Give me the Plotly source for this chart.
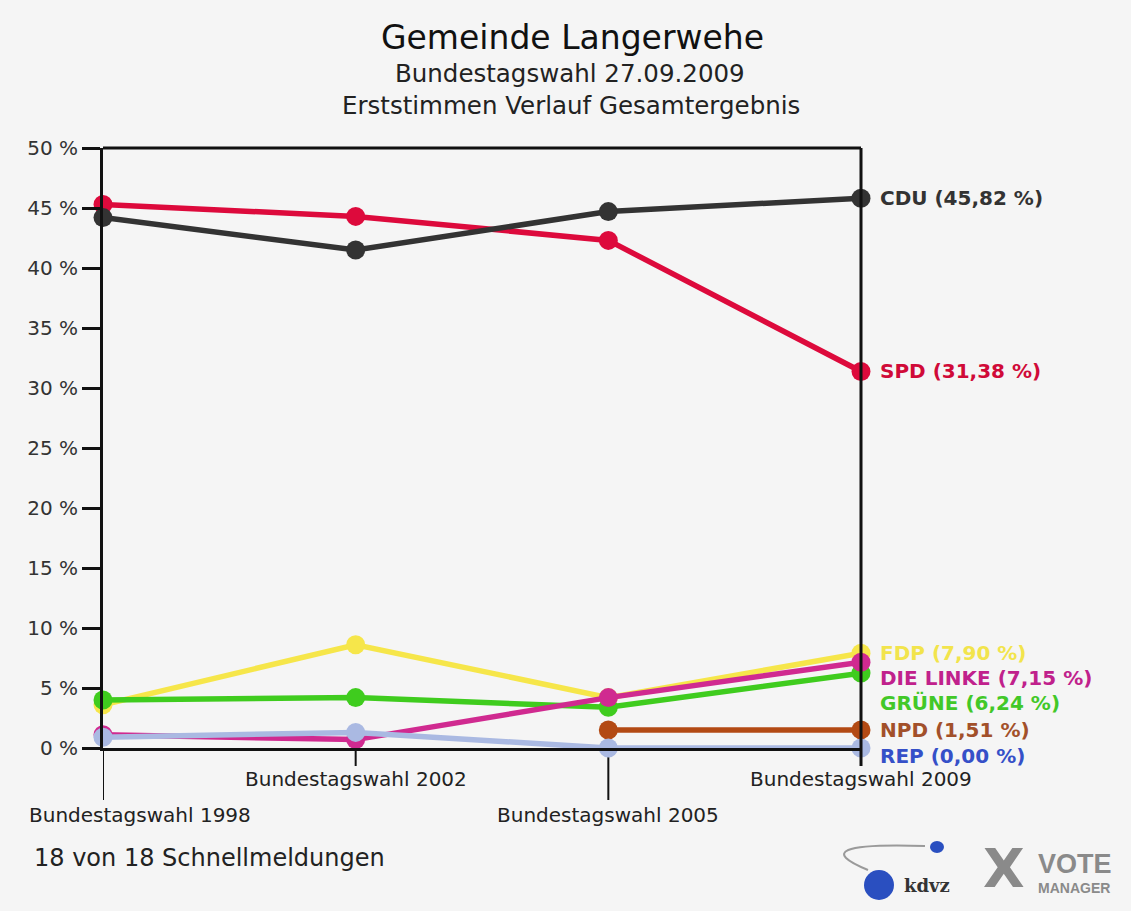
import plotly.graph_objects as go

elections = ["Bundestagswahl 1998", "Bundestagswahl 2002", "Bundestagswahl 2005", "Bundestagswahl 2009"]
y_ticks = [0, 5, 10, 15, 20, 25, 30, 35, 40, 45, 50]
y_tick_text = [f"{v} %" for v in y_ticks]

parties = ["SPD", "CDU", "FDP", "GRÜNE", "DIE LINKE", "NPD", "REP"]
spd = [45.3, 44.3, 42.3, 31.38]
cdu = [44.2, 41.5, 44.7, 45.82]
fdp = [3.6, 8.6, 4.2, 7.90]
gruene = [4.0, 4.2, 3.4, 6.24]
linke = [1.1, 0.7, 4.2, 7.15]
npd = [None, None, 1.5, 1.51]
rep = [0.9, 1.3, 0.0, 0.00]
final_labels = ["SPD (31,38 %)", "CDU (45,82 %)", "FDP (7,90 %)", "GRÜNE (6,24 %)",
                "DIE LINKE (7,15 %)", "NPD (1,51 %)", "REP (0,00 %)"]

series = [spd, cdu, fdp, gruene, linke, npd, rep]
line_colors = ["#dd0a3c", "#333333", "#f6e64a", "#3fcc1e", "#d02a90", "#b34a14", "#aab9e2"]
label_colors = ["#d00a38", "#333333", "#f2e44c", "#42c828", "#c0218c", "#a2502a", "#3550c8"]
label_shift = [0, 0, 0, -30, -16, 0, -8]  # pixel offsets to avoid overlap

# The page body has an 8px margin; the figure is sized so the picture fills the window.
W, H = 1115, 895
fig = go.Figure()
x_idx = list(range(len(elections)))
for name, vals, lc in zip(parties, series, line_colors):
    fig.add_trace(go.Scatter(
        x=x_idx, y=vals, mode="lines+markers", name=name,
        line=dict(color=lc, width=5.5),
        marker=dict(color=lc, size=19),
        cliponaxis=False, connectgaps=False, showlegend=False))


def px_x(p):
    return (p - 103) / 758


def px_y(p):
    return (748 - p) / 600


annotations = []
for name, vals, lab, col, sh in zip(parties, series, final_labels, label_colors, label_shift):
    annotations.append(dict(
        x=1, xref="paper", y=vals[-1], yref="y", xanchor="left", yanchor="middle",
        xshift=17, yshift=sh, text=lab, showarrow=False,
        font=dict(family="DejaVu Sans", size=20, color=col, weight="bold")))

# Staggered x tick labels
label_y = [px_y(815), px_y(779), px_y(815), px_y(779)]
for i, el in enumerate(elections):
    a = dict(x=i, xref="x", y=label_y[i], yref="paper", text=el, showarrow=False,
             xanchor="center", yanchor="middle",
             font=dict(family="DejaVu Sans", size=20, color="#222222"))
    if i == 0:
        a.update(x=px_x(27), xref="paper", xanchor="left")
    annotations.append(a)

annotations += [
    dict(x=px_x(572), xref="paper", y=px_y(38), yref="paper", text="Gemeinde Langerwehe",
         showarrow=False, xanchor="center", yanchor="middle",
         font=dict(family="DejaVu Sans", size=33, color="#111111")),
    dict(x=px_x(570), xref="paper", y=px_y(73), yref="paper", text="Bundestagswahl 27.09.2009",
         showarrow=False, xanchor="center", yanchor="middle",
         font=dict(family="DejaVu Sans", size=24.5, color="#222222")),
    dict(x=px_x(571), xref="paper", y=px_y(106), yref="paper", text="Erststimmen Verlauf Gesamtergebnis",
         showarrow=False, xanchor="center", yanchor="middle",
         font=dict(family="DejaVu Sans", size=24.5, color="#222222")),
    dict(x=px_x(32), xref="paper", y=px_y(858), yref="paper", text="18 von 18 Schnellmeldungen",
         showarrow=False, xanchor="left", yanchor="middle",
         font=dict(family="DejaVu Sans", size=24, color="#222222")),
    # logo texts
    dict(x=px_x(902), xref="paper", y=px_y(885), yref="paper", text="<b>kdvz</b>",
         showarrow=False, xanchor="left", yanchor="middle",
         font=dict(family="DejaVu Serif", size=18, color="#333333")),
    dict(x=px_x(1004), xref="paper", y=px_y(868), yref="paper", text="<b>X</b>",
         showarrow=False, xanchor="center", yanchor="middle",
         font=dict(family="DejaVu Sans", size=54, color="#8a8a8a")),
    dict(x=px_x(1036), xref="paper", y=px_y(864), yref="paper", text="<b>VOTE</b>",
         showarrow=False, xanchor="left", yanchor="middle",
         font=dict(family="Liberation Sans", size=27, color="#8a8a8a")),
    dict(x=px_x(1036), xref="paper", y=px_y(888), yref="paper", text="<b>MANAGER</b>",
         showarrow=False, xanchor="left", yanchor="middle",
         font=dict(family="Liberation Sans", size=14, color="#8a8a8a")),
]

shapes = [
    dict(type="line", xref="paper", yref="paper", x0=1, x1=1, y0=px_y(148), y1=px_y(766),
         line=dict(color="#111111", width=3)),
    dict(type="line", xref="paper", yref="paper", x0=0, x1=1, y0=1, y1=1,
         line=dict(color="#111111", width=3)),
]
tick_end = [800, 766, 800, 766]
for i in x_idx:
    shapes.append(dict(type="line", xref="x", yref="paper", x0=i, x1=i, y0=0, y1=px_y(tick_end[i]),
                       line=dict(color="#111111", width=2), layer="below"))
shapes += [
    dict(type="path", xref="paper", yref="paper",
         path=f"M {px_x(868)} {px_y(870)} Q {px_x(800)} {px_y(842)} {px_x(925)} {px_y(846)}",
         line=dict(color="#9a9a9a", width=2)),
    dict(type="circle", xref="paper", yref="paper", x0=px_x(864), x1=px_x(894), y0=px_y(900), y1=px_y(870),
         fillcolor="#2a4fc0", line=dict(width=0)),
    dict(type="circle", xref="paper", yref="paper", x0=px_x(930), x1=px_x(944), y0=px_y(853), y1=px_y(841),
         fillcolor="#2a4fc0", line=dict(width=0)),
]

fig.update_layout(
    width=W, height=H,
    paper_bgcolor="#f5f5f5", plot_bgcolor="#f5f5f5",
    margin=dict(l=95, r=W - 853, t=140, b=H - 740),
    annotations=annotations, shapes=shapes,
    xaxis=dict(range=[0, 3], showgrid=False, zeroline=False, showticklabels=False,
               showline=True, linecolor="#111111", linewidth=3, ticks=""),
    yaxis=dict(range=[0, 50], tickvals=y_ticks, ticktext=y_tick_text, showgrid=False, zeroline=False,
               showline=True, linecolor="#111111", linewidth=3,
               ticks="outside", ticklen=18, tickwidth=3, tickcolor="#111111",
               tickfont=dict(family="DejaVu Sans", size=20, color="#333333")),
)

fig.write_html("out.html", post_script="document.body.style.background='#f5f5f5';")
